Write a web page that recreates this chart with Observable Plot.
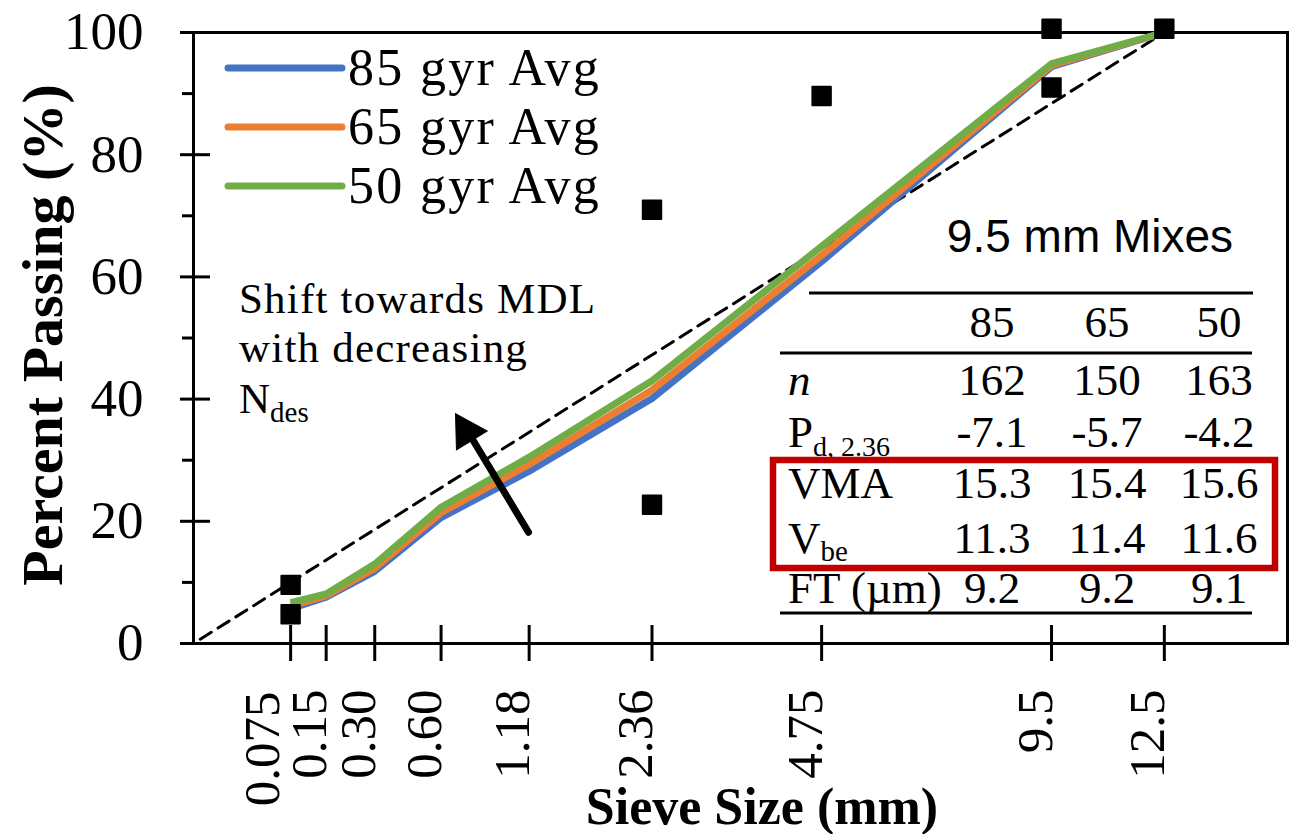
<!DOCTYPE html>
<html><head><meta charset="utf-8">
<script src="https://cdn.jsdelivr.net/npm/d3@7"></script>
<script src="https://cdn.jsdelivr.net/npm/@observablehq/plot@0.6"></script>
<style>
html,body{margin:0;padding:0;background:#fff;overflow:hidden;}
#chart{position:relative;width:1299px;height:834px;}
</style></head><body><div id="chart"></div>
<script>
// ---- data ----
const sieves = [0.075, 0.15, 0.30, 0.60, 1.18, 2.36, 4.75, 9.5, 12.5];
const sieveLabels = ["0.075", "0.15", "0.30", "0.60", "1.18", "2.36", "4.75", "9.5", "12.5"];
const gyr85 = [5.7, 7.6, 11.8, 20.6, 28.2, 40.1, 62.5, 94.4, 100];
const gyr65 = [6.1, 7.8, 12.3, 21.4, 29.3, 41.5, 63.5, 94.6, 100];
const gyr50 = [6.7, 8.1, 13.0, 22.3, 30.5, 43.0, 65.0, 94.9, 100];
const seriesNames = ["85 gyr Avg", "65 gyr Avg", "50 gyr Avg"];
const seriesColors = ["#4472C4", "#ED7D31", "#70AD47"];
const ctrlX = [0.075, 0.075, 2.36, 2.36, 4.75, 9.5, 9.5, 12.5];
const ctrlY = [9.6, 4.8, 71.0, 22.7, 89.6, 91.0, 100.6, 100.6];
const mdlX = [0, 12.5];
const mdlY = [0, 100];
const arrowX = [1.175, 0.76];
const arrowY = [18.2, 34.4];
const arrowHeadX = [0.745];
const arrowHeadY = [34.7];
const yMajor = [0, 20, 40, 60, 80, 100];
const yMinor = [10, 30, 50, 70, 90];
const tableTitle = "9.5 mm Mixes";
const tableCols = ["85", "65", "50"];
const rowN = ["162", "150", "163"];
const rowPd = ["-7.1", "-5.7", "-4.2"];
const rowVMA = ["15.3", "15.4", "15.6"];
const rowVbe = ["11.3", "11.4", "11.6"];
const rowFT = ["9.2", "9.2", "9.1"];

// ---- layout ----
const W = 1299, H = 834, mL = 193, mR = 12, mT = 32, mB = 191;
const plotW = W - mL - mR, plotH = H - mT - mB;
const serif = "'Liberation Serif','Times New Roman',Times,serif";
const sans = "'Liberation Sans',Arial,sans-serif";

const series = [gyr85, gyr65, gyr50].map((vals, k) => ({
  name: seriesNames[k], color: seriesColors[k],
  pts: sieves.map((s, i) => ({x: s, y: vals[i]}))
}));
const ctrl = ctrlX.map((x, i) => ({x, y: ctrlY[i]}));
const mdl = mdlX.map((x, i) => ({x, y: mdlY[i]}));
const arrow = arrowX.map((x, i) => ({x, y: arrowY[i]}));
const head = arrowHeadX.map((x, i) => ({x, y: arrowHeadY[i]}));

const marks = [
  Plot.frame({stroke: "black", strokeWidth: 3}),
  Plot.ruleY(yMajor, {y: d => d, insetLeft: -13, insetRight: plotW - 17, stroke: "black", strokeWidth: 3}),
  Plot.ruleY(yMinor, {y: d => d, insetLeft: -11, insetRight: plotW, stroke: "black", strokeWidth: 3}),
  Plot.ruleX(sieves, {x: d => d, insetTop: plotH - 18, insetBottom: -18, stroke: "black", strokeWidth: 3}),
  Plot.text(yMajor, {y: d => d, text: d => String(d), frameAnchor: "left", textAnchor: "end", dx: -50, fontSize: 53, fontFamily: serif, fill: "black"}),
  Plot.text(sieves, {x: d => d, text: (d, i) => sieveLabels[i], filter: (d, i) => i === 0, frameAnchor: "bottom", rotate: -90, textAnchor: "end", dy: 48, dx: -12, fontSize: 51, fontFamily: serif, fill: "black"}),
  Plot.text(sieves, {x: d => d, text: (d, i) => sieveLabels[i], filter: (d, i) => i > 0, frameAnchor: "bottom", rotate: -90, textAnchor: "end", dy: 46, fontSize: 51, fontFamily: serif, fill: "black"}),
  Plot.line(mdl, {x: "x", y: "y", stroke: "black", strokeWidth: 3, strokeDasharray: "13,8", strokeDashoffset: 13}),
  ...series.map(s => Plot.line(s.pts, {x: "x", y: "y", stroke: s.color, strokeWidth: 7, strokeLinejoin: "round", strokeLinecap: "butt"})),
  Plot.dot(ctrl, {x: "x", y: "y", symbol: "square", r: 10.4, fill: "black", stroke: "black", strokeWidth: 2, strokeLinejoin: "round"}),
  Plot.line(arrow, {x: "x", y: "y", stroke: "black", strokeWidth: 7}),
  Plot.dot(head, {x: "x", y: "y", symbol: "triangle", r: 13.4, rotate: -31.5, fill: "black", stroke: "black", strokeWidth: 1})
];

const chart = Plot.plot({
  width: W, height: H,
  marginLeft: mL, marginRight: mR, marginTop: mT, marginBottom: mB,
  style: {fontFamily: serif, background: "white", overflow: "visible"},
  x: {type: "pow", exponent: 0.45, domain: [0, 16.3], axis: null},
  y: {domain: [0, 100], axis: null},
  marks
});
document.getElementById("chart").appendChild(chart);

// ---- overlay text: titles, legend, annotation, table ----
const svg = d3.select(chart);
const g = svg.append("g").attr("text-anchor", "start");

// axis titles
g.append("text").attr("transform", "translate(62,335) rotate(-90)")
  .attr("text-anchor", "middle").attr("font-family", serif).attr("font-weight", "bold")
  .attr("font-size", 58).attr("fill", "black").text("Percent Passing (%)");
g.append("text").attr("x", 762).attr("y", 824)
  .attr("text-anchor", "middle").attr("font-family", serif).attr("font-weight", "bold")
  .attr("font-size", 52).attr("fill", "black").text("Sieve Size (mm)");

// legend
const legY = [68, 127, 186];
series.forEach((s, k) => {
  g.append("line").attr("x1", 228).attr("x2", 342).attr("y1", legY[k]).attr("y2", legY[k])
    .attr("stroke", s.color).attr("stroke-width", 7).attr("stroke-linecap", "round");
  g.append("text").attr("x", 348).attr("y", legY[k] + 17).attr("text-anchor", "start").attr("font-family", serif)
    .attr("font-size", 52).attr("letter-spacing", 2.3).attr("fill", "black").text(s.name);
});

// annotation
const ann = g.append("text").attr("font-family", serif).attr("font-size", 43).attr("fill", "black")
  .attr("text-anchor", "start").attr("letter-spacing", 1.2);
ann.append("tspan").attr("x", 239).attr("y", 313).text("Shift towards MDL");
ann.append("tspan").attr("x", 239).attr("y", 362).text("with decreasing");
const n3 = g.append("text").attr("font-family", serif).attr("font-size", 43).attr("fill", "black")
  .attr("text-anchor", "start").attr("x", 239).attr("y", 413);
n3.append("tspan").text("N");
n3.append("tspan").attr("font-size", 29).attr("dy", 9).text("des");

// table
g.append("text").attr("x", 1090).attr("y", 252).attr("text-anchor", "middle")
  .attr("font-family", sans).attr("font-size", 46).attr("fill", "black").text(tableTitle);
const hline = (x1, x2, y) => g.append("line").attr("x1", x1).attr("x2", x2).attr("y1", y).attr("y2", y)
  .attr("stroke", "black").attr("stroke-width", 3);
hline(809, 1253, 293);
hline(780, 1252, 353);
hline(780, 1252, 613);
const colX = [992, 1107, 1219];
const tfs = 45;
tableCols.forEach((c, j) => g.append("text").attr("x", colX[j]).attr("y", 337).attr("text-anchor", "middle")
  .attr("font-family", serif).attr("font-size", tfs).attr("fill", "black").text(c));
const rows = [rowN, rowPd, rowVMA, rowVbe, rowFT];
const rowBase = [395, 447, 498, 553, 603];
rows.forEach((r, i) => r.forEach((v, j) => g.append("text").attr("x", colX[j]).attr("y", rowBase[i])
  .attr("text-anchor", "middle").attr("font-family", serif).attr("font-size", tfs).attr("fill", "black").text(v)));
const lab = (y) => g.append("text").attr("x", 788).attr("y", y).attr("text-anchor", "start").attr("font-family", serif)
  .attr("font-size", tfs).attr("fill", "black");
lab(rowBase[0]).attr("font-style", "italic").text("n");
const lp = lab(rowBase[1]); lp.append("tspan").text("P");
lp.append("tspan").attr("font-size", 28).attr("dy", 9).text("d, 2.36");
lab(rowBase[2]).text("VMA");
const lv = lab(rowBase[3]); lv.append("tspan").text("V");
lv.append("tspan").attr("font-size", 29).attr("dy", 8).text("be");
lab(rowBase[4]).text("FT (\u00b5m)");
g.append("rect").attr("x", 773).attr("y", 460).attr("width", 502).attr("height", 108)
  .attr("fill", "none").attr("stroke", "#C00000").attr("stroke-width", 6.5);
</script></body></html>
